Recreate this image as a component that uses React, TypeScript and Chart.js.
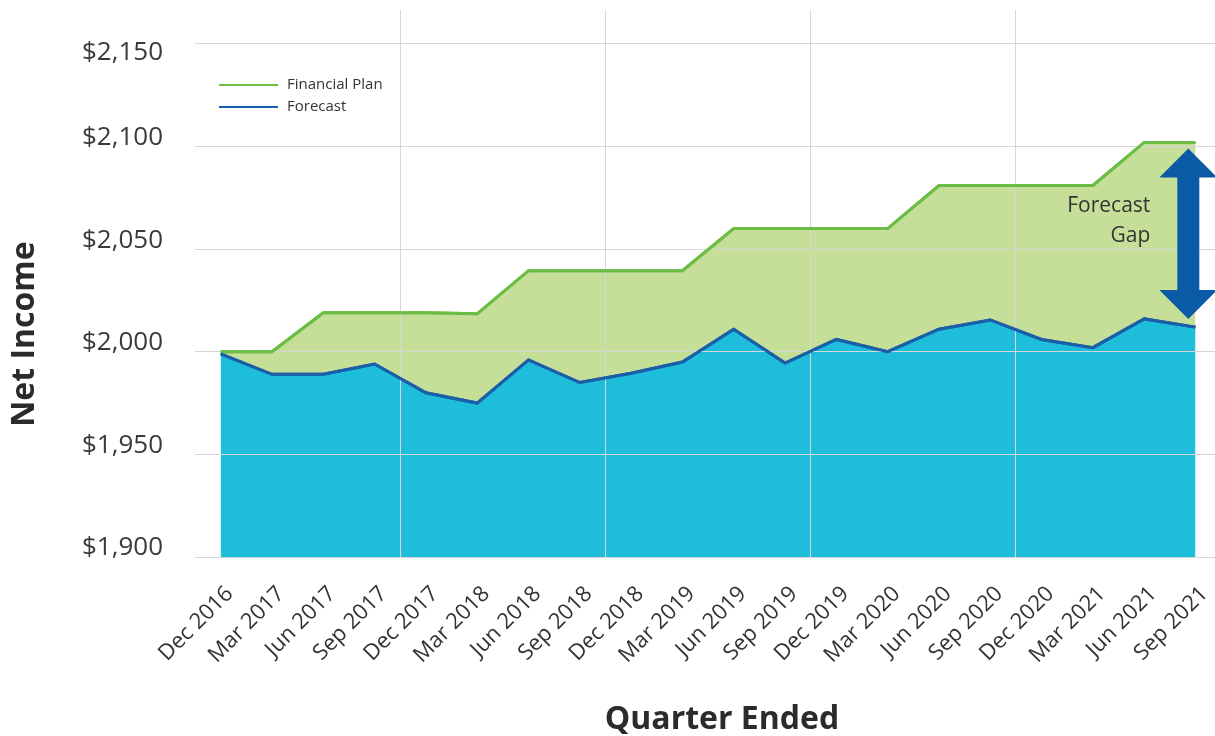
import React, { useEffect, useRef } from 'react';
import { Chart, registerables } from 'chart.js';

Chart.register(...registerables);

const QUARTERS = [
  'Dec 2016', 'Mar 2017', 'Jun 2017', 'Sep 2017', 'Dec 2017', 'Mar 2018', 'Jun 2018',
  'Sep 2018', 'Dec 2018', 'Mar 2019', 'Jun 2019', 'Sep 2019', 'Dec 2019', 'Mar 2020',
  'Jun 2020', 'Sep 2020', 'Dec 2020', 'Mar 2021', 'Jun 2021', 'Sep 2021',
];
const FINANCIAL_PLAN = [
  2000, 2000, 2019, 2019, 2019, 2018.5, 2039.5, 2039.5, 2039.5, 2039.5,
  2060, 2060, 2060, 2060, 2081, 2081, 2081, 2081, 2102, 2102,
];
const FORECAST = [
  1999, 1989, 1989, 1994, 1980, 1975, 1996, 1985, 1989.5, 1995,
  2011, 1994.5, 2006, 2000, 2011, 2015.5, 2006, 2002, 2016, 2012,
];
const Y_TICKS = [1900, 1950, 2000, 2050, 2100, 2150];
const Y_TICK_LABELS = ['$1,900', '$1,950', '$2,000', '$2,050', '$2,100', '$2,150'];
// vertical gridlines sit on category boundaries every 4 quarters
const X_BOUNDARIES = [3.5, 7.5, 11.5, 15.5];
const GAP_ARROW = { x: 18.86, top: 2099, bottom: 2016 };
const GAP_TEXT = ['Forecast', 'Gap'];
const LEGEND = [
  { label: 'Financial Plan', color: '#6cbd45' },
  { label: 'Forecast', color: '#1a5fa8' },
];

const FONT = "'Open Sans', 'Noto Sans', sans-serif";
const TEXT = '#333333';
const W = 1215;
const H = 736;

const overlay = {
  id: 'overlay',
  afterDraw(chart: any) {
    const { ctx, chartArea, scales } = chart;
    const x = scales.x;
    const y = scales.y;

    // redraw lines above gridlines
    ctx.save();
    for (let i = chart.data.datasets.length - 1; i >= 0; i--) {
      const meta = chart.getDatasetMeta(i);
      if (meta && meta.dataset) meta.dataset.draw(ctx, chartArea);
    }
    ctx.restore();

    // y tick labels (baseline on gridline, top one hangs below)
    ctx.save();
    ctx.font = `26px ${FONT}`;
    ctx.fillStyle = '#3a3a3a';
    ctx.textAlign = 'right';
    ctx.textBaseline = 'middle';
    Y_TICKS.forEach((v, i) => {
      const py = y.getPixelForValue(v);
      const off = i === Y_TICKS.length - 1 ? 9 : -9;
      ctx.fillText(Y_TICK_LABELS[i], chartArea.left - 32, py + off);
    });
    ctx.restore();

    // arrow
    const cx = x.getPixelForValue(GAP_ARROW.x);
    const top = y.getPixelForValue(GAP_ARROW.top);
    const bot = y.getPixelForValue(GAP_ARROW.bottom);
    const headH = 29, headW = 29, shaftW = 11;
    ctx.save();
    ctx.fillStyle = '#0b5aa6';
    ctx.beginPath();
    ctx.moveTo(cx, top);
    ctx.lineTo(cx + headW, top + headH);
    ctx.lineTo(cx + shaftW, top + headH);
    ctx.lineTo(cx + shaftW, bot - headH);
    ctx.lineTo(cx + headW, bot - headH);
    ctx.lineTo(cx, bot);
    ctx.lineTo(cx - headW, bot - headH);
    ctx.lineTo(cx - shaftW, bot - headH);
    ctx.lineTo(cx - shaftW, top + headH);
    ctx.lineTo(cx - headW, top + headH);
    ctx.closePath();
    ctx.fill();
    ctx.restore();

    // gap text
    ctx.save();
    ctx.font = `21px ${FONT}`;
    ctx.fillStyle = TEXT;
    ctx.textAlign = 'right';
    ctx.textBaseline = 'middle';
    const mid = (top + bot) / 2;
    ctx.fillText(GAP_TEXT[0], cx - 38, mid - 28);
    ctx.fillText(GAP_TEXT[1], cx - 38, mid + 2);
    ctx.restore();

    // legend
    ctx.save();
    ctx.font = `15px ${FONT}`;
    ctx.textAlign = 'left';
    ctx.textBaseline = 'middle';
    LEGEND.forEach((item, i) => {
      const ly = chartArea.top + 75 + i * 22;
      ctx.strokeStyle = item.color;
      ctx.lineWidth = 2;
      ctx.beginPath();
      ctx.moveTo(chartArea.left + 24, ly);
      ctx.lineTo(chartArea.left + 83, ly);
      ctx.stroke();
      ctx.fillStyle = TEXT;
      ctx.fillText(item.label, chartArea.left + 92, ly);
    });
    ctx.restore();

    // axis titles
    ctx.save();
    ctx.font = `bold 32px ${FONT}`;
    ctx.fillStyle = '#2b2b2b';
    ctx.textAlign = 'center';
    ctx.textBaseline = 'alphabetic';
    ctx.fillText('Quarter Ended', 722, 729);
    ctx.translate(34, 334);
    ctx.rotate(-Math.PI / 2);
    ctx.fillText('Net Income', 0, 0);
    ctx.restore();
  },
};

export default function App() {
  const ref = useRef<HTMLCanvasElement>(null);
  useEffect(() => {
    document.body.style.margin = '0';
    document.body.style.overflow = 'hidden';
    const canvas = ref.current;
    if (!canvas) return;
    const xTicks: number[] = [];
    for (let v = -0.5; v <= QUARTERS.length - 1; v += 0.5) xTicks.push(v);
    const chart = new Chart(canvas, {
      type: 'line',
      data: {
        datasets: [
          {
            label: 'Forecast',
            data: FORECAST.map((v, i) => ({ x: i, y: v })),
            borderColor: '#1a5fa8',
            backgroundColor: '#1fbddc',
            borderWidth: 3,
            pointRadius: 0,
            tension: 0,
            fill: 'start',
          },
          {
            label: 'Financial Plan',
            data: FINANCIAL_PLAN.map((v, i) => ({ x: i, y: v })),
            borderColor: '#6cbd45',
            backgroundColor: '#c5df98',
            borderWidth: 3,
            pointRadius: 0,
            tension: 0,
            fill: '-1',
          },
        ],
      },
      options: {
        animation: false,
        responsive: false,
        devicePixelRatio: 1,
        layout: { padding: { top: 10, left: 0, right: 0, bottom: 0 } },
        plugins: { legend: { display: false }, tooltip: { enabled: false } },
        scales: {
          x: {
            type: 'linear',
            min: -0.5,
            max: 19.38,
            afterBuildTicks: (s: any) => {
              s.ticks = xTicks.map((v) => ({ value: v }));
            },
            afterFit: (s: any) => {
              s.height = 179;
              s.paddingLeft = 0;
              s.paddingRight = 0;
            },
            ticks: {
              autoSkip: false,
              minRotation: 45,
              maxRotation: 45,
              padding: 24,
              labelOffset: 9,
              color: TEXT,
              font: { family: FONT, size: 22 },
              callback: (v: any) => (Number.isInteger(v) ? QUARTERS[v] : ''),
            },
            grid: {
              z: 1,
              drawTicks: false,
              lineWidth: 1,
              color: (c: any) =>
                c.tick && X_BOUNDARIES.includes(c.tick.value) ? '#d6d6d6' : 'rgba(0,0,0,0)',
            },
            border: { display: true, color: '#cfcfcf', z: 1 },
          },
          y: {
            min: 1900,
            max: 2166.5,
            afterBuildTicks: (s: any) => {
              s.ticks = Y_TICKS.map((v) => ({ value: v }));
            },
            afterFit: (s: any) => {
              s.width = 195;
              s.paddingTop = 0;
              s.paddingBottom = 0;
            },
            ticks: { display: false },
            grid: { z: 1, drawTicks: false, color: '#d6d6d6', lineWidth: 1 },
            border: { display: false },
          },
        },
      },
      plugins: [overlay],
    });
    return () => chart.destroy();
  }, []);
  return (
    <div style={{ width: W, height: H, position: 'relative' }}>
      <canvas ref={ref} width={W} height={H} style={{ display: 'block', width: W, height: H }} />
    </div>
  );
}
